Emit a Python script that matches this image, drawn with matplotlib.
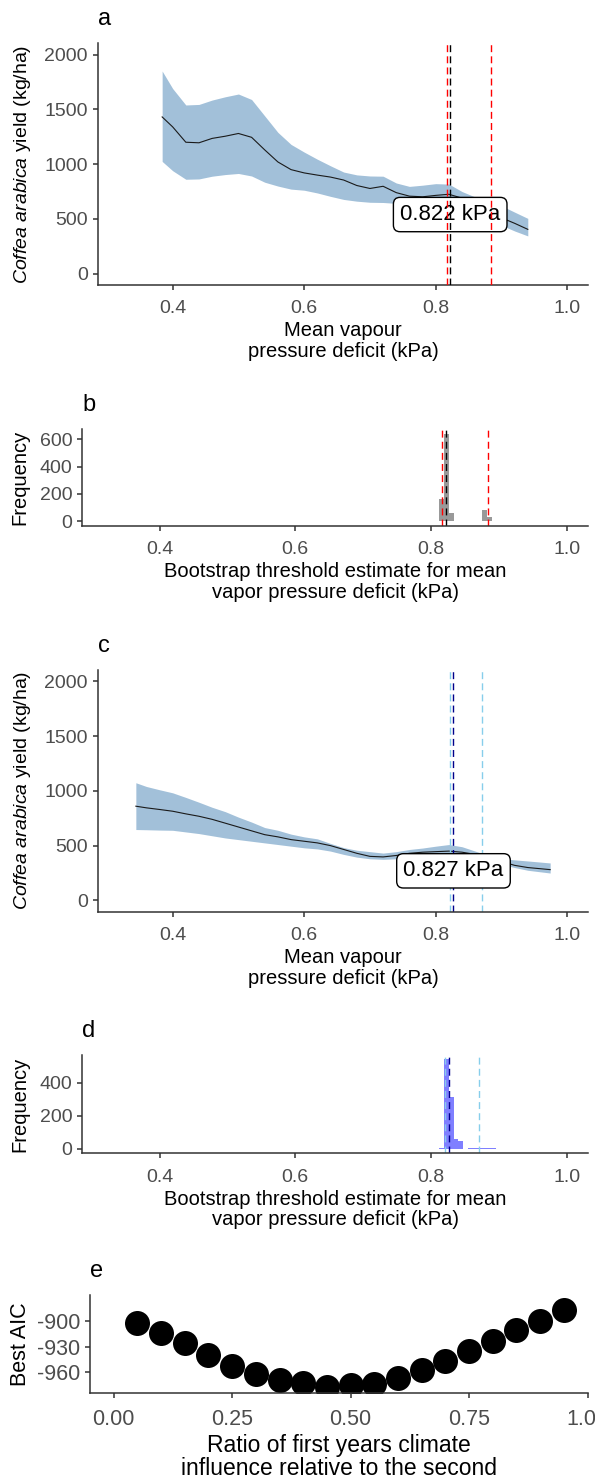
import matplotlib
matplotlib.use("Agg")
import matplotlib.pyplot as plt
from matplotlib.ticker import FormatStrFormatter

plt.rcParams["font.family"] = ["Liberation Sans", "DejaVu Sans"]
plt.rcParams["mathtext.fontset"] = "custom"
plt.rcParams["mathtext.it"] = "Liberation Sans:italic"
plt.rcParams["mathtext.rm"] = "Liberation Sans"
plt.rcParams["axes.unicode_minus"] = False

# --- panel a: yield vs VPD (umbral 0.822) ---
a_x = [0.384, 0.40, 0.42, 0.44, 0.46, 0.48, 0.50, 0.52, 0.54, 0.56, 0.58, 0.60, 0.62, 0.64, 0.66,
       0.68, 0.70, 0.72, 0.74, 0.76, 0.78, 0.80, 0.82, 0.84, 0.86, 0.88, 0.90, 0.92, 0.94]
a_media = [1431, 1340, 1200, 1195, 1235, 1255, 1280, 1245, 1130, 1020, 950, 920, 900, 882, 855,
           805, 778, 798, 740, 708, 702, 715, 725, 690, 620, 560, 510, 460, 405]
a_sup = [1850, 1690, 1540, 1545, 1585, 1615, 1640, 1590, 1440, 1290, 1180, 1110, 1045, 985, 928,
         902, 892, 890, 828, 797, 808, 822, 818, 750, 700, 668, 620, 562, 505]
a_inf = [1025, 940, 862, 865, 890, 905, 915, 892, 835, 800, 772, 762, 737, 706, 678,
         662, 652, 650, 642, 632, 626, 630, 640, 605, 560, 500, 442, 390, 345]
a_umbral = 0.822
a_ic = [0.8167, 0.884]
a_etiqueta_y = 540

# --- panel b: bootstrap (gris) ---
BINW = 0.007
b_bins = [0.8125, 0.8195, 0.8265, 0.8755, 0.8825]
b_frec = [160, 640, 60, 85, 30]

# --- panel c: yield vs VPD (umbral 0.827) ---
c_x = [0.344, 0.36, 0.38, 0.40, 0.42, 0.44, 0.46, 0.48, 0.50, 0.52, 0.54, 0.56, 0.58, 0.60, 0.62, 0.64,
       0.66, 0.68, 0.70, 0.72, 0.74, 0.76, 0.78, 0.80, 0.82, 0.84, 0.86, 0.88, 0.90, 0.92, 0.94, 0.974]
c_media = [860, 845, 830, 814, 790, 768, 740, 705, 670, 635, 600, 580, 555, 540, 525, 500,
           465, 430, 402, 397, 410, 430, 440, 445, 450, 440, 420, 390, 355, 320, 300, 281]
c_sup = [1074, 1040, 1010, 982, 940, 896, 850, 810, 760, 715, 665, 640, 605, 580, 562, 520,
         482, 458, 445, 432, 445, 465, 478, 495, 510, 490, 450, 410, 380, 370, 360, 342]
c_inf = [647, 645, 642, 640, 625, 610, 590, 570, 555, 540, 525, 510, 495, 480, 470, 450,
         420, 395, 380, 375, 380, 400, 410, 400, 395, 395, 385, 360, 330, 300, 275, 250]
c_umbral = 0.827
c_ic = [0.821, 0.871]
c_etiqueta_y = 270

# --- panel d: bootstrap (azul) ---
d_bins = [0.8125, 0.8195, 0.8265, 0.8335, 0.8405, 0.8545, 0.8615, 0.8685, 0.8755, 0.8825, 0.8895]
d_frec = [8, 543, 314, 60, 50, 8, 8, 8, 8, 8, 8]

# --- panel e: AIC vs ratio ---
e_ratio = [0.05, 0.10, 0.15, 0.20, 0.25, 0.30, 0.35, 0.40, 0.45, 0.50,
           0.55, 0.60, 0.65, 0.70, 0.75, 0.80, 0.85, 0.90, 0.95]
e_aic = [-902, -914, -926, -940, -953, -962, -969, -973, -977, -975,
         -974, -967, -958, -947, -935, -923, -910, -900, -887]

W, H = 595, 1477
fig = plt.figure(figsize=(W / 100, H / 100), dpi=100)


def caja(izq, arr, der, abj):
    return fig.add_axes([izq / W, 1 - abj / H, (der - izq) / W, (abj - arr) / H])


def estilo(ax, letra, tam_tick=14):
    for s in ["top", "right"]:
        ax.spines[s].set_visible(False)
    for s in ["left", "bottom"]:
        ax.spines[s].set_color("#333333")
        ax.spines[s].set_linewidth(1.1)
    ax.tick_params(colors="#333333", labelcolor="#4D4D4D", labelsize=tam_tick,
                   length=3.5, width=1.1, pad=3.6)
    ax.tick_params(axis="x", pad=7.5)
    ax.set_title(letra, loc="left", fontsize=17, pad=13)


XTICKS = [0.4, 0.6, 0.8, 1.0]
XLIM = (0.286, 1.032)
YLAB = r"$\it{Coffea\ arabica}$ yield (kg/ha)"
XLAB_CURVA = "Mean vapour\npressure deficit (kPa)"
XLAB_HIST = "Bootstrap threshold estimate for mean\nvapor pressure deficit (kPa)"
caja_label = dict(boxstyle="round,pad=0.3,rounding_size=0.3", fc="white", ec="black", lw=1)
DASH = (0, (5, 3))

# a
ax = caja(97.7, 43.3, 588.3, 285)
ax.fill_between(a_x, a_inf, a_sup, color="steelblue", alpha=0.5, lw=0)
ax.plot(a_x, a_media, color="#1a1a1a", lw=0.8)
ax.text(a_umbral, a_etiqueta_y, f"{a_umbral:.3f} kPa", ha="center", va="center",
        fontsize=16, bbox=caja_label, zorder=4)
for v in a_ic:
    ax.axvline(v, color="red", ls=DASH, lw=1, zorder=5)
ax.axvline(a_umbral, color="black", ls=DASH, lw=1, zorder=5)
ax.set_xlim(*XLIM)
ax.set_ylim(-103, 2103)
ax.set_xticks(XTICKS)
ax.set_yticks([0, 500, 1000, 1500, 2000])
ax.set_ylabel(YLAB, fontsize=14)
ax.yaxis.set_label_coords(-0.132, 0.5)
ax.set_xlabel(XLAB_CURVA, fontsize=14.5, linespacing=1.1, labelpad=3)
estilo(ax, "a")

# b
ax = caja(82.3, 429.3, 588.3, 525.7)
ax.bar(b_bins, b_frec, width=BINW, align="edge", color="#999999", lw=0)
for v in a_ic:
    ax.axvline(v, color="red", ls=DASH, lw=1)
ax.axvline(a_umbral, color="black", ls=DASH, lw=1)
ax.set_xlim(*XLIM)
ax.set_ylim(-32, 672)
ax.set_xticks(XTICKS)
ax.set_yticks([0, 200, 400, 600])
ax.set_ylabel("Frequency", fontsize=14.5)
ax.yaxis.set_label_coords(-0.105, 0.5)
ax.set_xlabel(XLAB_HIST, fontsize=14.5, linespacing=1.1, labelpad=3)
estilo(ax, "b")

# c
ax = caja(97.7, 670, 588.3, 911.7)
ax.fill_between(c_x, c_inf, c_sup, color="steelblue", alpha=0.5, lw=0)
ax.plot(c_x, c_media, color="#1a1a1a", lw=0.8)
for v in c_ic:
    ax.axvline(v, color="skyblue", ls=DASH, lw=1)
ax.axvline(c_umbral, color="darkblue", ls=DASH, lw=1)
ax.text(c_umbral, c_etiqueta_y, f"{c_umbral:.3f} kPa", ha="center", va="center",
        fontsize=16, bbox=caja_label, zorder=6)
ax.set_xlim(*XLIM)
ax.set_ylim(-103, 2103)
ax.set_xticks(XTICKS)
ax.set_yticks([0, 500, 1000, 1500, 2000])
ax.set_ylabel(YLAB, fontsize=14)
ax.yaxis.set_label_coords(-0.132, 0.5)
ax.set_xlabel(XLAB_CURVA, fontsize=14.5, linespacing=1.1, labelpad=3)
estilo(ax, "c")

# d
ax = caja(82.3, 1055, 588.3, 1153.3)
ax.bar(d_bins, d_frec, width=BINW, align="edge", color="blue", alpha=0.5, lw=0)
for v in c_ic:
    ax.axvline(v, color="skyblue", ls=DASH, lw=1)
ax.axvline(c_umbral, color="darkblue", ls=DASH, lw=1)
ax.set_xlim(*XLIM)
ax.set_ylim(-27, 570)
ax.set_xticks(XTICKS)
ax.set_yticks([0, 200, 400])
ax.set_ylabel("Frequency", fontsize=14.5)
ax.yaxis.set_label_coords(-0.105, 0.5)
ax.set_xlabel(XLAB_HIST, fontsize=14.5, linespacing=1.1, labelpad=3)
estilo(ax, "d")

# e
ax = caja(90, 1295, 587.5, 1393.3)
ax.scatter(e_ratio, e_aic, s=324, color="black", lw=0)
ax.set_xlim(-0.05, 1.0)
ax.set_ylim(-985, -869)
ax.set_xticks([0, 0.25, 0.5, 0.75, 1.0])
ax.xaxis.set_major_formatter(FormatStrFormatter("%.2f"))
ax.set_yticks([-960, -930, -900])
ax.set_ylabel("Best AIC", fontsize=15.5)
ax.yaxis.set_label_coords(-0.119, 0.5)
ax.set_xlabel("Ratio of first years climate\ninfluence relative to the second",
              fontsize=16.5, linespacing=1.0, labelpad=3)
estilo(ax, "e", tam_tick=15.5)

fig.savefig("out.png", dpi=100)
